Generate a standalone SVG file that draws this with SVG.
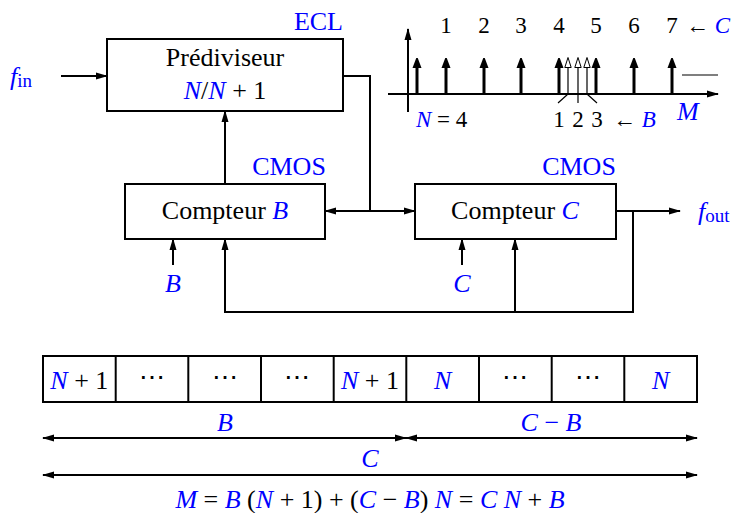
<svg xmlns="http://www.w3.org/2000/svg" width="738" height="513" viewBox="0 0 738 513">
<defs>
<style>
text{font-family:"Liberation Serif","DejaVu Serif",serif;font-size:26px;fill:#000}
.b{fill:#0000ff}
.i{font-style:italic}
.box{fill:#fff;stroke:#000;stroke-width:2}
.ln{fill:none;stroke:#000;stroke-width:2}
.imp{fill:none;stroke:#000;stroke-width:3}
.thin{fill:none;stroke:#000;stroke-width:1.2}
.sm{font-size:23px}
</style>
<marker id="a" markerWidth="13" markerHeight="8" refX="11" refY="4" orient="auto-start-reverse" markerUnits="userSpaceOnUse"><path d="M0,0.5 L12,4 L0,7.5 z" fill="#000"/></marker>
<marker id="t" markerWidth="10" markerHeight="14" refX="1" refY="5" orient="auto" markerUnits="userSpaceOnUse"><path d="M0,0.5 L12,5 L0,9.5 z" fill="#000"/></marker>
<marker id="h" markerWidth="12" markerHeight="10" refX="1" refY="4" orient="auto" markerUnits="userSpaceOnUse"><path d="M0.5,0.8 L10.5,4 L0.5,7.2 z" fill="#fff" stroke="#000" stroke-width="1"/></marker>
</defs>

<g id="connectors">
<line class="ln" x1="61" y1="76" x2="107" y2="76" marker-end="url(#a)"/>
<polyline class="ln" points="343,76 370,76 370,211"/>
<line class="ln" x1="370" y1="211" x2="325" y2="211" marker-end="url(#a)"/>
<line class="ln" x1="370" y1="211" x2="415" y2="211" marker-end="url(#a)"/>
<line class="ln" x1="225" y1="184" x2="225" y2="111" marker-end="url(#a)"/>
<line class="ln" x1="173" y1="265" x2="173" y2="239" marker-end="url(#a)"/>
<line class="ln" x1="462" y1="265" x2="462" y2="239" marker-end="url(#a)"/>
<polyline class="ln" points="633,211 633,312 225,312 225,239" marker-end="url(#a)"/>
<line class="ln" x1="515" y1="312" x2="515" y2="239" marker-end="url(#a)"/>
<line class="ln" x1="616" y1="211" x2="680" y2="211" marker-end="url(#a)"/>
</g>

<g id="prediviseur">
<rect class="box" x="107" y="39" width="236" height="72"/>
<text x="225" y="66" text-anchor="middle">Prédiviseur</text>
<text x="225" y="99" text-anchor="middle"><tspan class="b i">N</tspan>/<tspan class="b i">N</tspan> + 1</text>
<text class="b" x="343" y="30" text-anchor="end">ECL</text>
</g>

<g id="fin"><text class="b" x="10" y="85"><tspan class="i">f</tspan><tspan font-size="19" dy="2">in</tspan></text></g>

<g id="compteurB">
<rect class="box" x="125" y="184" width="200" height="55"/>
<text x="225" y="219" text-anchor="middle">Compteur <tspan class="b i">B</tspan></text>
<text class="b" x="289" y="175" text-anchor="middle">CMOS</text>
</g>

<g id="compteurC">
<rect class="box" x="415" y="184" width="201" height="55"/>
<text x="515" y="219" text-anchor="middle">Compteur <tspan class="b i">C</tspan></text>
<text class="b" x="579" y="175" text-anchor="middle">CMOS</text>
</g>

<g id="inB"><text class="b i" x="173" y="292" text-anchor="middle">B</text></g>
<g id="inC"><text class="b i" x="462" y="292" text-anchor="middle">C</text></g>
<g id="fout"><text class="b" x="698" y="220"><tspan class="i">f</tspan><tspan font-size="19" dy="2">out</tspan></text></g>

<g id="graph">
<line class="ln" x1="408" y1="112" x2="408" y2="29" marker-end="url(#a)"/>
<line class="ln" x1="388" y1="94" x2="718" y2="94" marker-end="url(#a)"/>
<line class="imp" x1="417" y1="94" x2="417" y2="67" marker-end="url(#t)"/>
<line class="imp" x1="446" y1="94" x2="446" y2="67" marker-end="url(#t)"/>
<line class="imp" x1="484" y1="94" x2="484" y2="67" marker-end="url(#t)"/>
<line class="imp" x1="521" y1="94" x2="521" y2="67" marker-end="url(#t)"/>
<line class="imp" x1="559" y1="94" x2="559" y2="67" marker-end="url(#t)"/>
<line class="imp" x1="596" y1="94" x2="596" y2="67" marker-end="url(#t)"/>
<line class="imp" x1="634" y1="94" x2="634" y2="67" marker-end="url(#t)"/>
<line class="imp" x1="672" y1="94" x2="672" y2="67" marker-end="url(#t)"/>
<line class="thin" x1="568" y1="94" x2="568" y2="67" marker-end="url(#h)"/>
<line class="thin" x1="578" y1="103" x2="578" y2="67" marker-end="url(#h)"/>
<line class="thin" x1="587" y1="94" x2="587" y2="67" marker-end="url(#h)"/>
<line class="thin" x1="558" y1="103" x2="568" y2="94"/>
<line class="thin" x1="587" y1="94" x2="597" y2="103"/>
<line class="thin" x1="682" y1="75" x2="718" y2="75"/>
<text class="sm" x="446" y="33" text-anchor="middle">1</text>
<text class="sm" x="484" y="33" text-anchor="middle">2</text>
<text class="sm" x="521" y="33" text-anchor="middle">3</text>
<text class="sm" x="559" y="33" text-anchor="middle">4</text>
<text class="sm" x="596" y="33" text-anchor="middle">5</text>
<text class="sm" x="634" y="33" text-anchor="middle">6</text>
<text class="sm" x="672" y="33" text-anchor="middle">7</text>
<text class="sm" x="686" y="33">← <tspan class="b i">C</tspan></text>
<text class="sm" x="559" y="127" text-anchor="middle">1</text>
<text class="sm" x="578" y="127" text-anchor="middle">2</text>
<text class="sm" x="597" y="127" text-anchor="middle">3</text>
<text class="sm" x="613" y="127">← <tspan class="b i">B</tspan></text>
<text class="b i" x="677" y="120" font-size="25">M</text>
<text class="sm" x="416" y="127"><tspan class="b i">N</tspan> = 4</text>
</g>

<g id="sequence">
<rect class="box" x="43" y="356" width="654" height="46"/>
<line class="ln" x1="115.7" y1="356" x2="115.7" y2="402"/>
<line class="ln" x1="188.3" y1="356" x2="188.3" y2="402"/>
<line class="ln" x1="261" y1="356" x2="261" y2="402"/>
<line class="ln" x1="333.7" y1="356" x2="333.7" y2="402"/>
<line class="ln" x1="406.3" y1="356" x2="406.3" y2="402"/>
<line class="ln" x1="479" y1="356" x2="479" y2="402"/>
<line class="ln" x1="551.7" y1="356" x2="551.7" y2="402"/>
<line class="ln" x1="624.3" y1="356" x2="624.3" y2="402"/>
<text x="79.3" y="389" text-anchor="middle"><tspan class="b i">N</tspan> + 1</text>
<text x="152" y="386" text-anchor="middle">⋯</text>
<text x="224.7" y="386" text-anchor="middle">⋯</text>
<text x="297.3" y="386" text-anchor="middle">⋯</text>
<text x="370" y="389" text-anchor="middle"><tspan class="b i">N</tspan> + 1</text>
<text class="b i" x="442.7" y="389" text-anchor="middle">N</text>
<text x="515.3" y="386" text-anchor="middle">⋯</text>
<text x="588" y="386" text-anchor="middle">⋯</text>
<text class="b i" x="660.7" y="389" text-anchor="middle">N</text>
</g>

<g id="spans">
<line class="ln" x1="43" y1="438" x2="406" y2="438" marker-start="url(#a)" marker-end="url(#a)"/>
<line class="ln" x1="406" y1="438" x2="697" y2="438" marker-start="url(#a)" marker-end="url(#a)"/>
<line class="ln" x1="43" y1="475" x2="697" y2="475" marker-start="url(#a)" marker-end="url(#a)"/>
<text class="b i" x="225" y="431" text-anchor="middle">B</text>
<text class="b" x="551" y="431" text-anchor="middle"><tspan class="i">C</tspan> − <tspan class="i">B</tspan></text>
<text class="b i" x="370" y="467" text-anchor="middle">C</text>
<text x="370" y="508" text-anchor="middle"><tspan class="b i">M</tspan> = <tspan class="b i">B</tspan> (<tspan class="b i">N</tspan> + 1) + (<tspan class="b i">C</tspan> − <tspan class="b i">B</tspan>) <tspan class="b i">N</tspan> = <tspan class="b i">C</tspan> <tspan class="b i">N</tspan> + <tspan class="b i">B</tspan></text>
</g>
</svg>
